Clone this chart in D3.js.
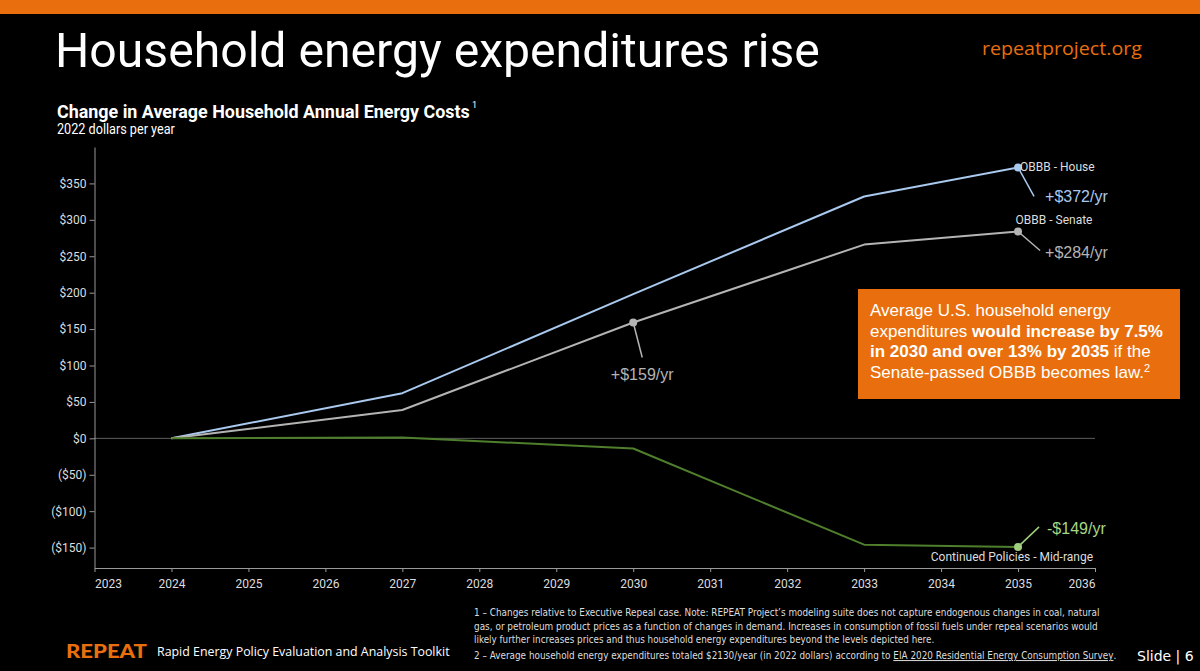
<!DOCTYPE html>
<html>
<head>
<meta charset="utf-8">
<script src="https://cdn.jsdelivr.net/npm/d3@7"></script>
<style>
body{margin:0;background:#000;overflow:hidden;}
</style>
</head>
<body>
<script>
//-----------------------------------------------------------------------------------------------------------------DATA

var years = [2024, 2027, 2030, 2033, 2035];
var houseCosts = [0, 62, 198, 332, 372];       // OBBB - House
var senateCosts = [0, 39, 159, 266, 284];      // OBBB - Senate
var continuedCosts = [0, 1, -14, -146, -149];  // Continued Policies - Mid-range

var xTickYears = [2023, 2024, 2025, 2026, 2027, 2028, 2029, 2030, 2031, 2032, 2033, 2034, 2035, 2036];
var yTickValues = [-150, -100, -50, 0, 50, 100, 150, 200, 250, 300, 350];

var footnotes = [
	"1 \u2013 Changes relative to Executive Repeal case. Note: REPEAT Project\u2019s modeling suite does not capture endogenous changes in coal, natural",
	"gas, or petroleum product prices as a function of changes in demand. Increases in consumption of fossil fuels under repeal scenarios would",
	"likely further increases prices and thus household energy expenditures beyond the levels depicted here."
];

//-----------------------------------------------------------------------------------------------------------------SLIDE

var width = 1200;
var height = 671;
var orange = "#e96f0e";

var svg = d3.select("body").append("svg").attr("width", width).attr("height", height).style("background", "#000");

// squeeze a text horizontally so it spans _w pixels (the slide fonts are narrow ones)
function fitText(t, _x, _y, _w){
	var k = _w / t.node().getComputedTextLength();
	t.attr("x", 0).attr("y", 0).attr("transform", "translate(" + _x + "," + _y + ") scale(" + k + ",1)");
	return t;
}

svg.append("rect").attr("x", 0).attr("y", 0).attr("width", width).attr("height", 14).attr("fill", orange);

fitText(svg.append("text")
	.style("font-family", "Roboto").style("font-size", "49px").attr("fill", "#fff")
	.text("Household energy expenditures rise"), 55, 67, 765);

fitText(svg.append("text")
	.style("font-family", "Open Sans").style("font-size", "19px").attr("fill", orange)
	.text("repeatproject.org"), 982, 55, 160);

// chart title
fitText(svg.append("text")
	.style("font-family", "Roboto").style("font-weight", "bold").style("font-size", "18.5px").attr("fill", "#fff")
	.text("Change in Average Household Annual Energy Costs"), 57, 118, 413);
svg.append("text").attr("x", 472).attr("y", 108)
	.style("font-family", "Roboto").style("font-size", "9px").attr("fill", "#fff").text("1");
fitText(svg.append("text")
	.style("font-family", "Roboto").style("font-size", "14px").attr("fill", "#fff")
	.text("2022 dollars per year"), 57, 134, 118);

//-----------------------------------------------------------------------------------------------------------------CHART

var x = d3.scaleLinear().domain([2023, 2036]).range([94.5, 1095]);
var y = d3.scaleLinear().domain([-178, 400]).range([568, 147]);

function money(v){
	return v < 0 ? "($" + (-v) + ")" : "$" + v;
}

var yAxis = svg.append("g").attr("transform", "translate(94.5,0)")
	.call(d3.axisLeft(y).tickValues(yTickValues).tickSize(5).tickSizeOuter(0).tickFormat(money));

var xAxis = svg.append("g").attr("transform", "translate(0,568)")
	.call(d3.axisBottom(x).tickValues(xTickYears).tickSize(4).tickSizeOuter(0).tickFormat(d3.format("d")));

[yAxis, xAxis].forEach(function(a){
	a.selectAll("path,line").attr("stroke", "#999");
	a.selectAll("text").attr("fill", "#ddd").style("font-family", "Roboto").style("font-size", "12px");
});
xAxis.selectAll("text").attr("dy", "1.1em");
xAxis.selectAll(".tick text").filter(function(d){ return d == xTickYears[0]; }).attr("text-anchor", "start");
xAxis.selectAll(".tick text").filter(function(d){ return d == xTickYears[xTickYears.length - 1]; }).attr("text-anchor", "end");

// zero line
svg.append("line").attr("x1", x(2023)).attr("x2", x(2036)).attr("y1", y(0)).attr("y2", y(0))
	.attr("stroke", "#bbb").attr("stroke-width", 1).attr("stroke-dasharray", "1,1");

var series = [
	{ "name": "house", "values": houseCosts, "line": "#a9c9ee", "dot": "#a9c9ee" },
	{ "name": "senate", "values": senateCosts, "line": "#b4b4b4", "dot": "#b4b4b4" },
	{ "name": "continued", "values": continuedCosts, "line": "#4f7f2c", "dot": "#9fcf7c" }
];

var line = d3.line()
	.x(function(d){ return x(d.year); })
	.y(function(d){ return y(d.value); });

series.forEach(function(s){
	s.points = years.map(function(yr, i){ return { "year": yr, "value": s.values[i] }; });
	svg.append("path").datum(s.points)
		.attr("d", line).attr("fill", "none")
		.attr("stroke", s.line).attr("stroke-width", 2).attr("stroke-linejoin", "round");
});

//------------------------------------------------------Annotations

function point(s, yr){
	var i = years.indexOf(yr);
	return { "x": x(yr), "y": y(series[s].values[i]), "value": series[s].values[i] };
}

function annotate(s, yr, dx, dy, tx, ty, anchor, color){
	var p = point(s, yr);
	svg.append("line").attr("x1", p.x).attr("y1", p.y).attr("x2", p.x + dx).attr("y2", p.y + dy)
		.attr("stroke", series[s].dot).attr("stroke-width", 1.5);
	svg.append("circle").attr("cx", p.x).attr("cy", p.y).attr("r", 4).attr("fill", series[s].dot);
	svg.append("text").attr("x", p.x + tx).attr("y", p.y + ty).attr("text-anchor", anchor)
		.style("font-family", "Liberation Sans").style("font-size", "16px").attr("fill", color)
		.text((p.value < 0 ? "-$" : "+$") + Math.abs(p.value) + "/yr");
}

annotate(0, 2035, 16, 29, 27, 35, "start", "#a9c9ee");
annotate(1, 2035, 22, 19, 27, 27, "start", "#b4b4b4");
annotate(1, 2030, 9, 35, 9, 57, "middle", "#b4b4b4");
annotate(2, 2035, 21, -20, 29, -13, "start", "#a6d785");

function seriesLabel(s, yr, tx, ty, anchor, label){
	var p = point(s, yr);
	svg.append("text").attr("x", p.x + tx).attr("y", p.y + ty).attr("text-anchor", anchor)
		.style("font-family", "Roboto").style("font-size", "12px").attr("fill", "#ddd")
		.text(label);
}

seriesLabel(0, 2035, 2, 4, "start", "OBBB - House");
seriesLabel(1, 2035, 36, -7, "middle", "OBBB - Senate");
seriesLabel(2, 2035, 75, 14, "end", "Continued Policies - Mid-range");

//------------------------------------------------------Callout box

svg.append("rect").attr("x", 858).attr("y", 289).attr("width", 322).attr("height", 110).attr("fill", orange);

var callout = [
	[["Average U.S. household energy", false]],
	[["expenditures ", false], ["would increase by 7.5%", true]],
	[["in 2030 and over 13% by 2035", true], [" if the", false]],
	[["Senate-passed OBBB becomes law.", false]]
];

callout.forEach(function(parts, i){
	var t = svg.append("text").attr("x", 870).attr("y", 316 + i * 20.5)
		.style("font-family", "Liberation Sans").style("font-size", "17px").attr("fill", "#fff");
	parts.forEach(function(p){
		t.append("tspan").style("font-weight", p[1] ? "bold" : "normal").text(p[0]);
	});
	if(i == callout.length - 1){
		t.append("tspan").attr("dy", -6).style("font-size", "11px").text("2");
	}
});

//-----------------------------------------------------------------------------------------------------------------FOOTER

fitText(svg.append("text")
	.style("font-family", "Lato").style("font-weight", "900").style("font-size", "19px").attr("fill", orange)
	.text("REPEAT"), 66, 658, 81);
fitText(svg.append("text")
	.style("font-family", "Open Sans").style("font-size", "13px").attr("fill", "#fff")
	.text("Rapid Energy Policy Evaluation and Analysis Toolkit"), 157, 656, 293);

var noteWidths = [626, 624, 461];
footnotes.forEach(function(f, i){
	fitText(svg.append("text")
		.style("font-family", "DejaVu Sans").style("font-size", "10px").attr("fill", "#ddd")
		.text(f), 474, 616 + i * 13.5, noteWidths[i]);
});

var note2 = svg.append("text")
	.style("font-family", "DejaVu Sans").style("font-size", "10px").attr("fill", "#ddd");
note2.append("tspan").text("2 \u2013 Average household energy expenditures totaled $2130/year (in 2022 dollars) according to ");
note2.append("tspan").style("text-decoration", "underline").text("EIA 2020 Residential Energy Consumption Survey");
note2.append("tspan").text(".");
fitText(note2, 474, 659, 642);

svg.append("text").attr("x", 1137).attr("y", 661)
	.style("font-family", "DejaVu Sans").style("font-size", "14px").attr("fill", "#fff")
	.text("Slide | 6");

</script>
</body>
</html>
